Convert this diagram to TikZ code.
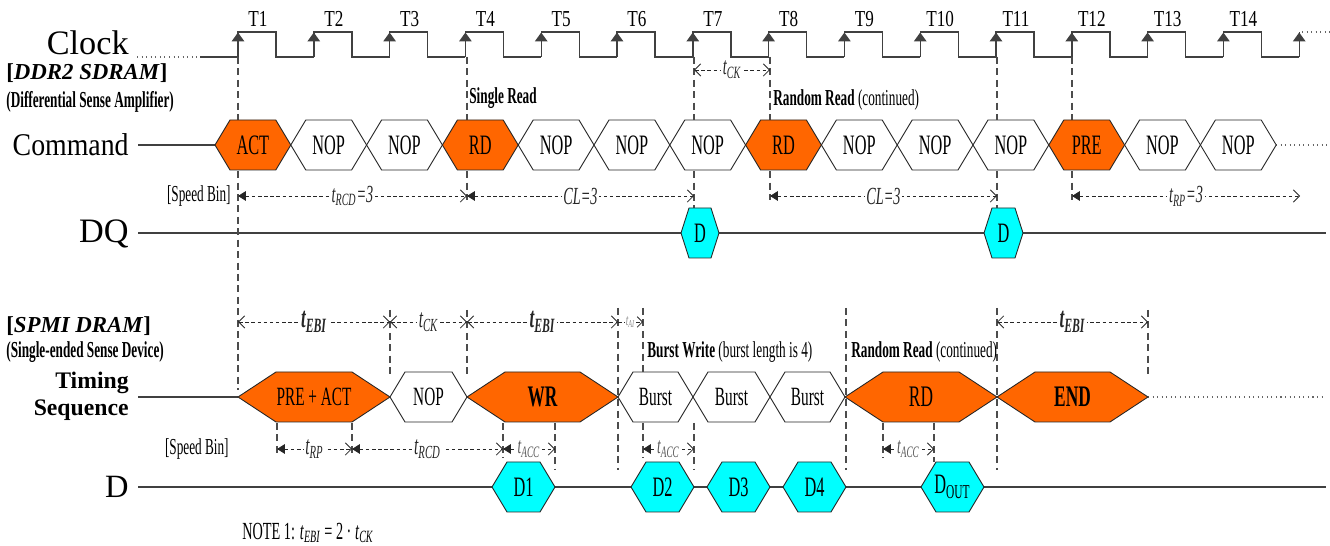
\documentclass[tikz,border=0pt]{standalone}
\usepackage{fontspec}
\setmainfont{Liberation Serif}
\newfontfamily\narrowrm{Liberation Serif}[FakeStretch=0.58]
\newfontfamily\semirm{Liberation Serif}[FakeStretch=0.75]
\newfontfamily\rowrm{Liberation Serif}[FakeStretch=0.88]
\usetikzlibrary{arrows.meta}

\definecolor{cmdorange}{RGB}{255,102,0}
\definecolor{datacyan}{RGB}{0,255,255}
\newcommand{\fs}[1]{\fontsize{#1}{#1}\selectfont}
\newcommand{\tsub}[2]{\textit{#1}\textsubscript{\textit{#2}}}
% hexagon cell: name, left x, right x, slant, mid y, style, text
\newcommand{\hexcell}[7]{%
  \draw[#6] (#2,#5) -- (#2+#4,#5-25) -- (#3-#4,#5-25) -- (#3,#5)
    -- (#3-#4,#5+25) -- (#2+#4,#5+25) -- cycle;
  \node[celltext] (#1) at ({(#2+#3)/2},#5) {#7};}

\begin{document}
\begin{tikzpicture}[x=0.02cm,y=-0.02cm,
  wave/.style={black!75,line width=0.8pt},
  edge/.style={wave,-{Triangle[length=5pt,width=7pt]}},
  dotline/.style={black!60,line width=0.6pt,dotted},
  signal/.style={black!75,line width=0.8pt},
  guide/.style={black!70,line width=0.6pt,dash pattern=on 4pt off 2.5pt},
  span/.style={black!85,line width=0.5pt,dash pattern=on 2pt off 1.5pt},
  spanboth/.style={span,{Straight Barb[length=3.5pt,width=7pt]}-{Straight Barb[length=3.5pt,width=7pt]}},
  spanfrom/.style={span,{Triangle[length=4.5pt,width=5.5pt]}-{Straight Barb[length=3.5pt,width=7pt]}},
  cell/.style={draw=black!85,line width=0.5pt,fill=#1},
  celltext/.style={inner sep=0pt,font=\narrowrm\fs{16}},
  tag/.style={inner sep=0pt},
  mlabel/.style={fill=white,inner sep=1pt,font=\narrowrm\fs{14}\itshape},
  biglabel/.style={mlabel,font=\narrowrm\fs{15}\itshape},
  ebilabel/.style={mlabel,font=\narrowrm\fs{16.5}\bfseries\itshape},
  acclabel/.style={mlabel,text=black!65,font=\narrowrm\fs{13}\itshape},
  ailabel/.style={fill=white,inner sep=0.3pt,text=black!45,font=\narrowrm\fs{9}\itshape}]

\useasboundingbox (0,0) rectangle (1330,546);

% clock
\draw[dotline] (137,57) -- (200,57);
\draw[wave] (200,57) -- (238,57);
\foreach \n in {1,...,14}{
  \pgfmathsetmacro\xr{238+(\n-1)*75.8}
  \draw[wave] (\xr,57) -- (\xr,32) -- (\xr+38,32) -- (\xr+38,57) -- (\xr+75.8,57);
  \draw[edge] (\xr,46) -- (\xr,32.5);
  \node[font=\semirm\fs{13}] (T\n) at (\xr+20,19) {T\n};
}
\draw[wave] (1299.2,57) -- (1299.2,32);
\draw[edge] (1299.2,46) -- (1299.2,32.5);
\draw[dotline] (1302,32) -- (1330,32);

% row names
\node[tag,anchor=east,font=\fs{19.5}] (clock) at (129,43) {Clock};
\node[tag,anchor=west,font=\bfseries\fs{13}] (ddr) at (6,73) {[\textit{DDR2 SDRAM}]};
\node[tag,anchor=west,font=\narrowrm\bfseries\fs{13}] (ddrnote) at (6,102) {(Differential Sense Amplifier)};
\node[tag,anchor=east,font=\rowrm\fs{18}] (command) at (129,145) {Command};
\node[tag,anchor=east,font=\fs{19.5}] (dq) at (129,234) {DQ};
\node[tag,anchor=west,font=\bfseries\fs{13}] (spmi) at (6,326) {[\textit{SPMI DRAM}]};
\node[tag,anchor=west,font=\narrowrm\bfseries\fs{13}] (spminote) at (6,352) {(Single-ended Sense Device)};
\node[tag,anchor=east,align=right,font=\bfseries\fontsize{13.5}{15.5}\selectfont] (timing) at (129,396) {Timing\\Sequence};
\node[tag,anchor=east,font=\fs{18.5}] (dline) at (129,487) {D};

% signal lines
\draw[signal] (138,145) -- (215,145);
\draw[dotline] (1276,145) -- (1330,145);
\draw[signal] (138,233) -- (1326,233);
\draw[signal] (138,397) -- (238,397);
\draw[dotline] (1148,397) -- (1326,397);
\draw[signal] (138,487) -- (1326,487);

% dashed guides
\foreach \x/\ya/\yb in {238/57/390, 467/57/200, 694/57/208, 770/57/200, 997/57/208, 1072/57/200,
    390/310/378, 467/310/378, 618/308/470, 643/308/372, 846/308/470, 997/308/470, 1148/310/378,
    277/423/455, 352/423/455, 503/423/458, 555/423/470, 643/423/458, 694/423/470, 883/423/458, 934/423/462}
  \draw[guide] (\x,\ya) -- (\x,\yb);

% command sequence
\foreach \lab/\col [count=\i from 0] in {ACT/cmdorange,NOP/white,NOP/white,RD/cmdorange,NOP/white,NOP/white,NOP/white,RD/cmdorange,NOP/white,NOP/white,NOP/white,PRE/cmdorange,NOP/white,NOP/white}
  \hexcell{cmd\i}{215+\i*75.8}{290.8+\i*75.8}{15}{145}{cell=\col}{\lab};

% DQ
\hexcell{dqA}{681}{719}{8}{233}{cell=datacyan}{D}
\hexcell{dqB}{984}{1023}{8}{233}{cell=datacyan}{D}

% timing sequence
\hexcell{preact}{238}{390}{38}{397}{cell=cmdorange}{\fs{15}PRE + ACT}
\hexcell{nop}{390}{467}{15}{397}{cell=white}{\fs{15}NOP}
\hexcell{wr}{467}{618}{38}{397}{cell=cmdorange}{\bfseries\fs{17}WR}
\hexcell{burstA}{618}{693}{15}{397}{cell=white}{\fs{15}Burst}
\hexcell{burstB}{693}{770}{15}{397}{cell=white}{\fs{15}Burst}
\hexcell{burstC}{770}{845}{15}{397}{cell=white}{\fs{15}Burst}
\hexcell{rd}{845}{997}{38}{397}{cell=cmdorange}{\fs{17}RD}
\hexcell{fin}{997}{1148}{38}{397}{cell=cmdorange}{\bfseries\fs{17}END}

% D
\hexcell{dA}{492}{555}{15}{487}{cell=datacyan}{\fs{16}D1}
\hexcell{dB}{631}{694}{15}{487}{cell=datacyan}{\fs{16}D2}
\hexcell{dC}{707}{770}{15}{487}{cell=datacyan}{\fs{16}D3}
\hexcell{dD}{783}{846}{15}{487}{cell=datacyan}{\fs{16}D4}
\hexcell{dout}{921}{984}{15}{487}{cell=datacyan}{\fs{16}D\textsubscript{OUT}}

% DDR2 timings
\draw[spanboth] (694,70) -- node[mlabel] (tckA) {\tsub{t}{CK}} (770,70);
\draw[spanfrom] (238,196) -- node[mlabel] (trcdA) {\tsub{t}{RCD}=3} (467,196);
\draw[spanfrom] (467,196) -- node[mlabel] (clA) {CL=3} (694,196);
\draw[spanfrom] (770,196) -- node[mlabel] (clB) {CL=3} (997,196);
\draw[spanfrom] (1072,196) -- node[mlabel] (trpA) {\tsub{t}{RP}=3} (1300,196);

% SPMI timings
\draw[spanboth] (238,322) -- node[ebilabel] (ebiA) {\tsub{t}{EBI}} (390,322);
\draw[spanboth] (390,322) -- node[biglabel] (tckB) {\tsub{t}{CK}} (467,322);
\draw[spanboth] (467,322) -- node[ebilabel] (ebiB) {\tsub{t}{EBI}} (618,322);
\draw[span,-{Straight Barb[length=3pt,width=6pt]}] (618,322) -- node[ailabel] (tai) {\tsub{t}{AI}} (643,322);
\draw[spanboth] (997,322) -- node[ebilabel] (ebiC) {\tsub{t}{EBI}} (1148,322);
\draw[spanfrom] (277,449) -- node[biglabel] (trpB) {\tsub{t}{RP}} (352,449);
\draw[spanfrom] (352,449) -- node[biglabel] (trcdB) {\tsub{t}{RCD}} (503,449);
\draw[spanfrom] (503,449) -- node[acclabel] (taccA) {\tsub{t}{ACC}} (555,449);
\draw[spanfrom] (643,449) -- node[acclabel] (taccB) {\tsub{t}{ACC}} (694,449);
\draw[spanfrom] (883,449) -- node[acclabel] (taccC) {\tsub{t}{ACC}} (934,449);

% notes
\node[tag,anchor=west,font=\narrowrm\fs{13}] (single) at (469,98) {\textbf{Single Read}};
\node[tag,anchor=west,font=\narrowrm\fs{13}] (randomA) at (773,100) {\textbf{Random Read} (continued)};
\node[tag,anchor=west,font=\narrowrm\fs{13}] (burstw) at (647,352) {\textbf{Burst Write} (burst length is 4)};
\node[tag,anchor=west,font=\narrowrm\fs{13}] (randomB) at (851,352) {\textbf{Random Read} (continued)};
\node[tag,anchor=east,font=\narrowrm\fs{13}] (binA) at (231,196) {[Speed Bin]};
\node[tag,anchor=east,font=\narrowrm\fs{13}] (binB) at (229,449) {[Speed Bin]};
\node[tag,anchor=west,font=\narrowrm\fs{14}] (note) at (242,533) {NOTE 1: \tsub{t}{EBI} = 2 · \tsub{t}{CK}};

\end{tikzpicture}
\end{document}
